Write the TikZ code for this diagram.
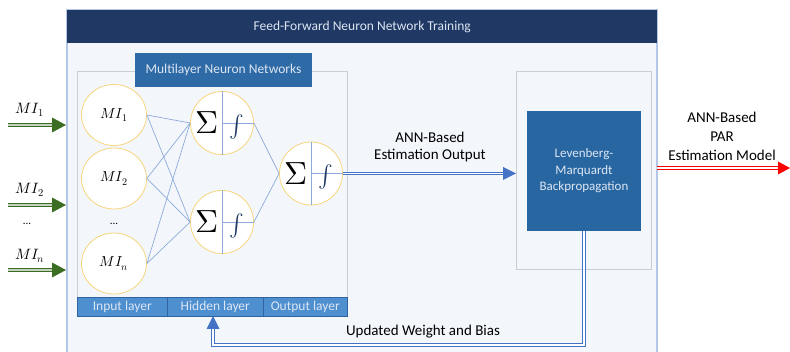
\documentclass[tikz,border=0pt]{standalone}
\usepackage{fontspec}
\usepackage{unicode-math}
\setmainfont{Carlito}
\setmathfont{Latin Modern Math}
\usetikzlibrary{arrows.meta,shapes.geometric,calc}
\definecolor{navy}{HTML}{203864}
\definecolor{mlnblue}{HTML}{2E6AA6}
\definecolor{lmblue}{HTML}{2866A1}
\definecolor{barblue}{HTML}{4E8FD0}
\definecolor{bardiv}{HTML}{2F64A0}
\definecolor{panelbg}{HTML}{F3F7FC}
\definecolor{panelborder}{HTML}{B4C7E7}
\definecolor{boxgray}{HTML}{C9CED5}
\definecolor{gold}{HTML}{F7D57E}
\definecolor{wire}{HTML}{8EAADB}
\definecolor{arrowblue}{HTML}{4472C4}
\definecolor{ingreen}{HTML}{3B6E22}
\definecolor{lighttext}{HTML}{DCE6F3}
\tikzset{
  txt/.style={font=\fontsize{15}{17}\selectfont, text=black, align=center, inner sep=0pt},
  bartxt/.style={font=\fontsize{13.5}{15}\selectfont, text=lighttext},
  layerbox/.style={draw=bardiv, fill=barblue, line width=0.6pt, minimum height=19pt, inner sep=0pt, anchor=north west, bartxt},
  innode/.style={ellipse, draw=gold, fill=white, line width=0.8pt, minimum width=65pt, minimum height=61pt, inner sep=0pt, font=\fontsize{14.5}{16}\selectfont},
  neuron/.style={circle, draw=gold, fill=white, line width=0.8pt, minimum size=63pt, inner sep=0pt},
  wireline/.style={draw=wire, line width=0.7pt},
  dblblue/.style={draw=arrowblue, line width=1.1pt, double=white, double distance=1.3pt},
  dblgreen/.style={draw=ingreen, line width=1.4pt, double=white!70!ingreen, double distance=1.4pt},
  dblred/.style={draw=red, line width=1.1pt, double=white, double distance=1.3pt},
}
\begin{document}
\begin{tikzpicture}[x=1pt,y=-1pt]
\useasboundingbox (0,0) rectangle (790,352);
% outer panel
\fill[panelbg] (67,10) rectangle (657,352);
\draw[panelborder, line width=1.2pt] (67,352) -- (67,10) -- (657,10) -- (657,352);
\node[fill=navy, minimum width=590pt, minimum height=33pt, inner sep=0pt, anchor=north west,
      font=\fontsize{13.5}{15}\selectfont, text=lighttext] (header) at (67,10) {Feed-Forward\ Neuron\ Network\ Training};
% multilayer box
\draw[boxgray, line width=0.8pt] (77,71) rectangle (347,316);
\node[fill=mlnblue, minimum width=177pt, minimum height=34pt, inner sep=0pt,
      font=\fontsize{13.5}{15}\selectfont, text=lighttext] (mlntitle) at (223.5,70) {Multilayer Neuron Networks};
% layer bar
\node[layerbox, minimum width=90pt] (inlayer) at (77,297) {Input layer};
\node[layerbox, minimum width=96pt] (hidlayer) at (167,297) {Hidden layer};
\node[layerbox, minimum width=84pt] (outlayer) at (263,297) {Output layer};
% input nodes
\node[innode] (in1) at (114,115) {$MI_1$};
\node[innode] (in2) at (114,178.5) {$MI_2$};
\node[innode] (inn) at (114,263.5) {$MI_n$};
\node[font=\fontsize{11}{12}\selectfont] (dotsin) at (114,224) {...};
% hidden/output neurons
\node[neuron] (h1) at (222,123) {};
\node[neuron] (h2) at (222,222) {};
\node[neuron] (out) at (311,173.5) {};
% wires
\foreach \a in {in1,in2,inn}{
  \foreach \b in {h1,h2}{
    \draw[wireline] (\a.east) -- (\b.west);
  }
}
\draw[wireline] (h1.east) -- (out.west);
\draw[wireline] (h2.east) -- (out.west);
\foreach \n in {h1,h2,out}{
  \draw[wireline] (\n.north) -- (\n.south);
  \draw[wireline] (\n.center) -- (\n.east);
  \node[inner sep=0pt] at ($(\n.center)+(-15,0)$) {\fontsize{32}{32}\selectfont$\Sigma$};
  \node[inner sep=0pt, text=navy] at ($(\n.center)+(15,4)$) {\fontsize{22}{22}\selectfont$\int$};
}
% LM boxes
\draw[boxgray, line width=0.8pt] (516,71) rectangle (651,269);
\node[fill=lmblue, minimum width=114pt, minimum height=120pt, inner sep=0pt,
      font=\fontsize{13}{16.5}\selectfont, text=lighttext, align=center] (lm) at (584,171) {Levenberg-\\Marquardt\\Backpropagation};
% estimation output arrow
\coordinate (lmin) at (516,173.5);
\draw[dblblue] (out.east) -- ($(lmin)+(-11,0)$);
\fill[arrowblue] (lmin) -- ++(-13,-6.5) -- ++(0,13) -- cycle;
\node[txt] (estlbl) at (430,147) {ANN-Based\\Estimation Output};
% output red arrow
\coordinate (panelR) at (657,168);
\coordinate (redtip) at (790,168);
\draw[dblred] (panelR) -- ($(redtip)+(-10,0)$);
\fill[red] (redtip) -- ++(-12,-6.5) -- ++(0,13) -- cycle;
\node[txt, font=\fontsize{15}{19}\selectfont] (parlbl) at (722,136) {ANN-Based\\PAR\\Estimation Model};
% feedback
\coordinate (fb1) at (584,345);
\coordinate (fb2) at (213,345);
\coordinate (fbtip) at (213,316);
\draw[dblblue] (lm.south -| fb1) -- (fb1) -- (fb2) -- ($(fbtip)+(0,11)$);
\fill[arrowblue] (fbtip) -- ++(-6.5,13) -- ++(13,0) -- cycle;
\node[txt] (fblbl) at (423,332) {Updated Weight and Bias};
% input arrows
\foreach \y/\nm in {125/a,205/b,270/c}{
  \coordinate (s\nm) at (8,\y);
  \coordinate (t\nm) at (66,\y);
  \draw[dblgreen] (s\nm) -- ($(t\nm)+(-11,0)$);
  \fill[ingreen] (t\nm) -- ++(-14,-7.5) -- ++(0,15) -- cycle;
}
\node[font=\fontsize{15}{17}\selectfont] (lbl1) at (30,110) {$MI_1$};
\node[font=\fontsize{15}{17}\selectfont] (lbl2) at (30,190) {$MI_2$};
\node[font=\fontsize{11}{12}\selectfont] (lbldots) at (27,224) {...};
\node[font=\fontsize{15}{17}\selectfont] (lbln) at (30,256) {$MI_n$};
\end{tikzpicture}
\end{document}
